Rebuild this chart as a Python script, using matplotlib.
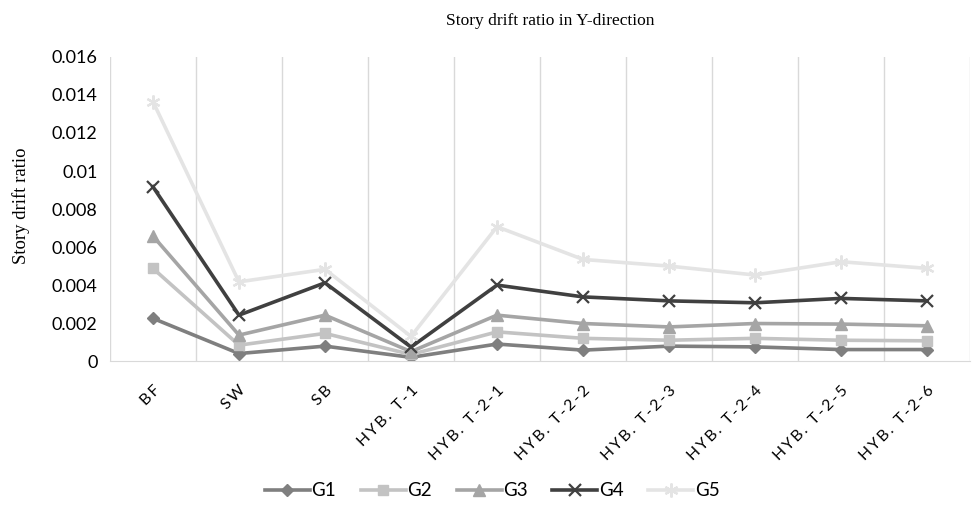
import matplotlib.pyplot as plt

categories = ["BF", "SW", "SB", "HYB. T-1", "HYB. T-2-1", "HYB. T-2-2",
              "HYB. T-2-3", "HYB. T-2-4", "HYB. T-2-5", "HYB. T-2-6"]
y_ticks = [0, 0.002, 0.004, 0.006, 0.008, 0.01, 0.012, 0.014, 0.016]

g1 = [0.00225, 0.0004, 0.00079, 0.0002, 0.0009, 0.00058, 0.00079, 0.00075, 0.00061, 0.00061]
g2 = [0.00488, 0.00084, 0.00146, 0.00035, 0.00154, 0.0012, 0.0011, 0.0012, 0.0011, 0.00107]
g3 = [0.00658, 0.00137, 0.00242, 0.0005, 0.00242, 0.00198, 0.0018, 0.00198, 0.00195, 0.00186]
g4 = [0.00917, 0.00242, 0.00412, 0.00074, 0.0040, 0.00338, 0.00317, 0.00307, 0.0033, 0.00317]
g5 = [0.01365, 0.00417, 0.00483, 0.0013, 0.00707, 0.00535, 0.0050, 0.00453, 0.00523, 0.00488]

series = [
    ("G1", g1, "#7f7f7f", "D", 6.5),
    ("G2", g2, "#c3c3c3", "s", 7.5),
    ("G3", g3, "#a5a5a5", "^", 8),
    ("G4", g4, "#404040", "x", 9),
    ("G5", g5, "#e4e4e4", (6, 2, 0), 10),
]

tick_font = ["Lato", "DejaVu Sans"]
serif_font = "Liberation Serif"

fig = plt.figure(figsize=(9.73, 5.13), dpi=100)
ax = fig.add_axes([0.113, 0.296, 0.884, 0.593])

x = range(len(categories))
for name, vals, color, marker, ms in series:
    ax.plot(x, vals, color=color, lw=2.6, marker=marker, markersize=ms,
            markeredgewidth=1.6 if marker in ("x", (6, 2, 0)) else 1,
            markeredgecolor=color, markerfacecolor=color, label=name)

ax.set_xlim(-0.5, len(categories) - 0.5)
ax.set_ylim(0, 0.016)
ax.set_yticks(y_ticks)
ax.set_yticklabels(["0" if v == 0 else f"{v:.3f}".rstrip("0") for v in y_ticks],
                   fontsize=13, family=tick_font)

# spaced-out category labels
spaced = ["\u2009".join(c) for c in categories]
ax.set_xticks(list(x))
ax.set_xticklabels(spaced, rotation=45, ha="right", rotation_mode="anchor",
                   fontsize=11.5, family=tick_font)

# category boundary gridlines
ax.set_xticks([i - 0.5 for i in range(len(categories) + 1)], minor=True)
ax.grid(True, which="minor", axis="x", color="#d9d9d9", lw=1)
ax.grid(False, which="major")
ax.tick_params(axis="both", which="both", length=0)
ax.tick_params(axis="x", pad=16)
ax.tick_params(axis="y", pad=9)

for side in ("top", "right", "left"):
    ax.spines[side].set_visible(False)
ax.spines["bottom"].set_color("#d9d9d9")

fig.text(0.566, 0.96, "Story drift ratio in Y-direction", ha="center", va="center",
         fontsize=12.5, family=serif_font)
fig.text(0.022, 0.598, "Story drift ratio", rotation=90, ha="center", va="center",
         fontsize=13.5, family=serif_font)

leg = fig.legend(loc="center", bbox_to_anchor=(0.506, 0.043), ncol=5, frameon=False,
                 handlelength=2.4, columnspacing=1.3, handletextpad=0.1,
                 prop={"family": tick_font, "size": 13.5})

fig.savefig("out.png", dpi=100)
